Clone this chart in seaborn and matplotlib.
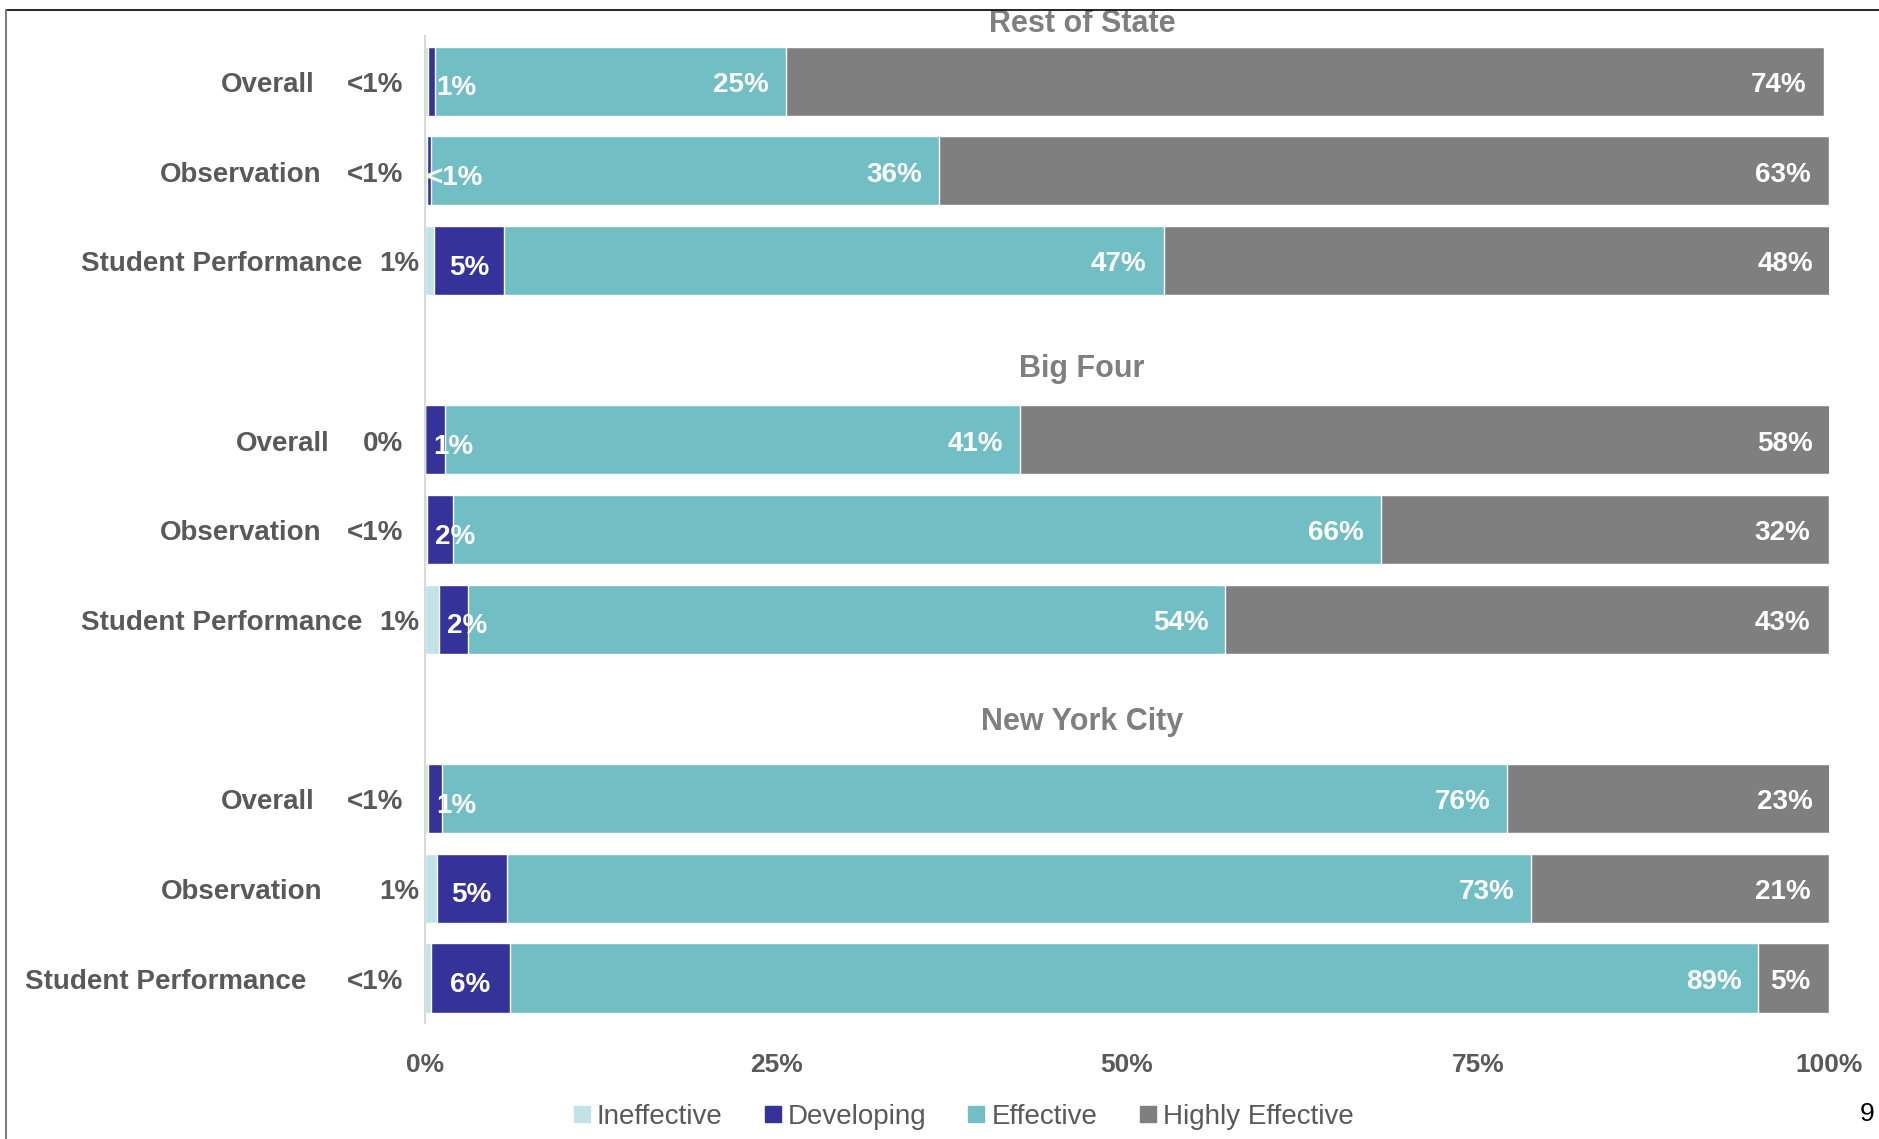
import matplotlib
matplotlib.use("Agg")
import matplotlib.pyplot as plt
import seaborn as sns
import pandas as pd
import numpy as np
from matplotlib.lines import Line2D
from matplotlib.patches import Rectangle


# ___ Data ___

groups = ["Rest of State", "Big Four", "New York City"]
measures = ["Overall", "Observation", "Student Performance"]

ineffective = [0.2, 0.1, 0.6, 0.0, 0.1, 1.0, 0.2, 0.8, 0.4]
developing = [0.5, 0.3, 5.0, 1.4, 1.9, 2.0, 1.0, 5.0, 5.6]
effective = [25.0, 36.2, 47.0, 41.0, 66.1, 54.0, 75.9, 73.0, 89.0]
highly_effective = [74.0, 63.4, 47.6, 57.8, 31.9, 43.0, 23.1, 21.2, 5.0]

ineffective_labels = ["<1%", "<1%", "1%", "0%", "<1%", "1%", "<1%", "1%", "<1%"]
developing_labels = ["1%", "<1%", "5%", "1%", "2%", "2%", "1%", "5%", "6%"]
effective_labels = ["25%", "36%", "47%", "41%", "66%", "54%", "76%", "73%", "89%"]
highly_effective_labels = ["74%", "63%", "48%", "58%", "32%", "43%", "23%", "21%", "5%"]

legend_labels = ["Ineffective", "Developing", "Effective", "Highly Effective"]
colors = ["#bfe3e6", "#35339a", "#72bec5", "#7f7f7f"]
x_ticks = [0, 25, 50, 75, 100]

TEXT_GRAY = "#595959"

# right edge (in % units, left of the axis) of each row's name, as placed on the slide
name_right = [-7.9, -7.4, -4.5, -6.8, -7.4, -4.5, -7.9, -7.3, -8.5]


# ___ Table ___

keys, order = [], []
for g, grp in enumerate(groups):
    if g > 0:
        order.append(f"gap{g}")
    for m in measures:
        keys.append(f"{grp}|{m}")
        order.append(f"{grp}|{m}")

df = pd.DataFrame({
    "key": keys,
    "measure": measures * len(groups),
    "ineff": ineffective,
    "dev": developing,
    "eff": effective,
    "he": highly_effective,
})
df["c_ineff"] = df["ineff"]
df["c_dev"] = df["c_ineff"] + df["dev"]
df["c_eff"] = df["c_dev"] + df["eff"]
df["c_he"] = df["c_eff"] + df["he"]
df["pos"] = [order.index(k) for k in df["key"]]


# ___ Plot ___

sns.set_theme(style="white")
plt.rcParams["font.family"] = ["Liberation Sans", "DejaVu Sans"]

fig = plt.figure(figsize=(18.79, 11.39), dpi=100)
ax = fig.add_axes([0.2264, 0.1020, 0.7468, 0.866])

# stacked bars: draw cumulative totals from the longest down
for col, color in zip(["c_he", "c_eff", "c_dev", "c_ineff"], colors[::-1]):
    sns.barplot(data=df, x=col, y="key", order=order, orient="h", color=color,
                saturation=1, width=0.77, errorbar=None, ax=ax)

ax.set_xlim(0, 100)
ax.set_ylim(len(order) - 0.5, -0.5)
ax.set_xlabel("")
ax.set_ylabel("")

ax.set_xticks(x_ticks)
ax.set_xticklabels([f"{t}%" for t in x_ticks], fontsize=19, fontweight="bold", color=TEXT_GRAY)
ax.tick_params(axis="x", length=0, pad=22)

ax.set_yticks(np.arange(-0.5, len(order), 1.0))
ax.set_yticklabels([])
ax.tick_params(axis="y", length=6, width=1.5, color="#d9d9d9", direction="out")

sns.despine(ax=ax, top=True, right=True, bottom=True)
ax.spines["left"].set_color("#d9d9d9")
ax.spines["left"].set_linewidth(1.5)

# ___ Labels ___

lab = dict(fontsize=20, fontweight="bold", va="center")
for i, row in df.iterrows():
    y = row["pos"] + 0.04
    ax.text(name_right[i], y, row["measure"], ha="right", color=TEXT_GRAY, clip_on=False, **lab)
    il = ineffective_labels[i]
    ax.text(-0.4 if il == "1%" else -1.6, y, il, ha="right", color=TEXT_GRAY, clip_on=False, **lab)

    dev_x = max(row["ineff"] + row["dev"] / 2, row["ineff"] + 2.0)
    ax.text(dev_x, y + 0.04, developing_labels[i], ha="center", color="white", **lab)
    ax.text(row["c_eff"] - 1.2, y, effective_labels[i], ha="right", color="white", **lab)
    ax.text(row["c_he"] - 1.3, y, highly_effective_labels[i], ha="right", color="white", **lab)

# group titles
title_y = [-0.55, 3.30, 7.23]
for grp, ty in zip(groups, title_y):
    ax.text(46.8, ty, grp, ha="center", va="baseline", fontsize=22, fontweight="bold",
            color="#7f7f7f", clip_on=False)

# ___ Legend ___

handles = [Line2D([], [], marker="s", linestyle="none", markersize=12, color=c) for c in colors]
fig.legend(handles, legend_labels, loc="center", bbox_to_anchor=(0.512, 1 - 1117 / 1139),
           ncol=4, frameon=False, fontsize=20, labelcolor=TEXT_GRAY,
           handlelength=0.8, handletextpad=0.15, columnspacing=1.4)

fig.text(1867 / 1879, 1 - 1114 / 1139, "9", ha="center", va="center", fontsize=19, color="black")

# ___ Page frame ___

top = 1 - 9.6 / 1139
fig.add_artist(Rectangle((0, top), 1, 1 - top, transform=fig.transFigure,
                         facecolor="white", edgecolor="none", zorder=10))
fig.add_artist(Line2D([6 / 1879, 1], [top, top], transform=fig.transFigure,
                      color="black", lw=1.2, zorder=11))
fig.add_artist(Line2D([6 / 1879, 6 / 1879], [0, top], transform=fig.transFigure,
                      color="#7f7f7f", lw=1.5, zorder=11))

fig.savefig("out.png", dpi=100, facecolor="white")
